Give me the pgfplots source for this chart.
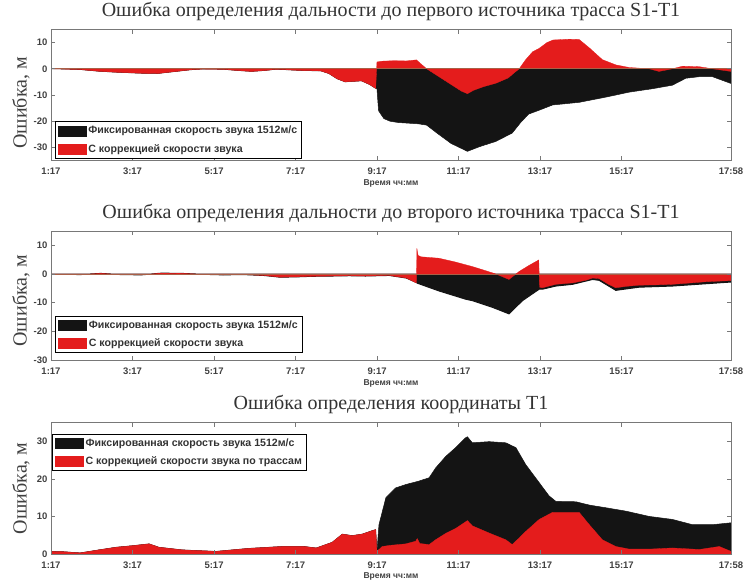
\documentclass[border=0pt]{standalone}
\usepackage{pgfplots}
\pgfplotsset{compat=1.18}
\usepackage{fontspec}
\setmainfont{Liberation Serif}
\setsansfont{Liberation Sans}
\definecolor{myred}{RGB}{228,28,28}
\definecolor{myblack}{RGB}{20,20,20}
\definecolor{axgray}{RGB}{120,120,120}
\definecolor{zline}{RGB}{170,95,70}
\pgfplotsset{
  myaxis/.style={
    scale only axis, width=680pt, anchor=south west,
    xmin=1.2833, xmax=17.9667,
    xtick={1.2833,3.2833,5.2833,7.2833,9.2833,11.2833,13.2833,15.2833,17.9667},
    xticklabels={1:17,3:17,5:17,7:17,9:17,11:17,13:17,15:17,17:58},
    tick align=inside, xtick pos=both, ytick pos=both,
    xticklabel pos=lower, yticklabel pos=left,
    major tick length=4pt,
    tick style={axgray, line width=0.6pt},
    axis line style={axgray, line width=0.7pt},
    /pgf/number format/assume math mode=true,
    ticklabel style={font=\sffamily\bfseries\fontsize{9.5}{10}\selectfont, text=black!75},
    xticklabel style={yshift=-4pt},
    xlabel={Время чч:мм},
    xlabel style={font=\sffamily\bfseries\fontsize{8.5}{9}\selectfont, text=black!75, anchor=center},
    ylabel={Ошибка, м},
    ylabel style={font=\fontsize{20}{22}\selectfont, text=black!75, anchor=center},
    title style={font=\fontsize{20}{22}\selectfont, text=black!80, anchor=base, at={(axis description cs:0.5,1)}, yshift=7pt},
    axis on top,
    legend style={font=\sffamily\bfseries\fontsize{10.6}{11}\selectfont, draw=black, line width=0.6pt, inner sep=2.5pt, row sep=5pt, cells={anchor=west}, text=black!80},
    legend image code/.code={\fill[#1] (0pt,-5pt) rectangle (28pt,5pt);},
  }
}
\begin{document}
\begin{tikzpicture}
\useasboundingbox (0,0) rectangle (748pt,582pt);
% ---------------- Panel 1
\begin{axis}[myaxis, at={(51pt,421.5pt)}, height=131pt, ymin=-35, ymax=15,
  ytick={-30,-20,-10,0,10},
  title={Ошибка определения дальности до первого источника трасса S1-T1},
  xlabel style={at={(axis description cs:0.5,-0.175)}},
  ylabel style={at={(axis description cs:-0.044,0.44)}},
  legend style={at={(axis description cs:0.006,0.015)}, anchor=south west}]
\addplot[fill=myblack, draw=myblack, line width=0.5pt] coordinates {
(1.2833,0) (1.6,-0.1) (2.0,-0.3) (2.5,-1.0) (3.0,-1.4) (3.5,-1.7) (3.9,-1.8) (4.3,-1.1)
(4.7,-0.4) (5.0,-0.1) (5.5,-0.2) (5.9,-0.7) (6.2,-1.0) (6.5,-0.7) (6.8,-0.2) (7.1,-0.4)
(7.5,-0.7) (7.9,-0.8) (8.1,-1.8) (8.3,-3.8) (8.5,-5.0) (8.7,-4.8) (8.9,-4.6) (9.1,-6.0)
(9.25,-7.5) (9.28,-7.5) (9.32,-16) (9.45,-19) (9.6,-20) (9.8,-20.5) (10.0,-20.7) (10.3,-21)
(10.5,-21.5) (10.75,-24.5) (11.1,-28.5) (11.5,-31.5) (11.8,-29.7) (12.2,-27.7) (12.6,-24.5)
(12.8,-20.6) (13.0,-17.3) (13.26,-15.8) (13.59,-13.8) (14.24,-12.8) (14.9,-10.8) (15.47,-8.9)
(16.04,-7.6) (16.53,-6.25) (16.86,-3.6) (17.19,-3.0) (17.51,-3.0) (17.9667,-5.6) (17.9667,0)
} \closedcycle;
\addlegendentry{Фиксированная скорость звука 1512м/с}
\addplot[fill=myred, draw=myred, line width=0.3pt] coordinates {
(1.2833,0) (1.6,-0.1) (2.0,-0.3) (2.5,-1.0) (3.0,-1.4) (3.5,-1.7) (3.9,-1.8) (4.3,-1.1)
(4.7,-0.4) (5.0,-0.1) (5.5,-0.2) (5.9,-0.7) (6.2,-1.0) (6.5,-0.7) (6.8,-0.2) (7.1,-0.4)
(7.5,-0.7) (7.9,-0.8) (8.1,-1.8) (8.3,-3.8) (8.5,-5.0) (8.7,-4.8) (8.9,-4.6) (9.1,-6.0)
(9.25,-7.5) (9.28,2.6) (9.4,2.9) (9.7,3.1) (10.0,3.0) (10.25,3.4) (10.35,2.0) (10.5,0.0)
(10.8,-3.0) (11.1,-6.0) (11.35,-8.5) (11.5,-9.5) (11.65,-8.2) (11.9,-6.8) (12.2,-5.5)
(12.5,-3.5) (12.65,-1.5) (12.77,0.0) (12.93,3.5) (13.1,6.5) (13.26,7.8) (13.45,10.0)
(13.6,11.0) (14.0,11.3) (14.24,11.2) (14.49,8.0) (14.81,3.5) (15.14,1.5) (15.47,0.5)
(15.96,0.0) (16.2,-1.0) (16.53,0.0) (16.78,1.0) (17.19,0.8) (17.51,0.0) (17.9667,-1.0) (17.9667,0)
} \closedcycle;
\addlegendentry{С коррекцией скорости звука}
\addplot[zline, line width=0.7pt, forget plot] coordinates {(1.2833,0) (17.9667,0)};
\end{axis}
% ---------------- Panel 2
\begin{axis}[myaxis, at={(51pt,222pt)}, height=129pt, ymin=-30, ymax=15,
  ytick={-30,-20,-10,0,10},
  title={Ошибка определения дальности до второго источника трасса S1-T1},
  xlabel style={at={(axis description cs:0.5,-0.18)}},
  ylabel style={at={(axis description cs:-0.044,0.46)}},
  legend style={at={(axis description cs:0.006,0.054)}, anchor=south west}]
\addplot[fill=myblack, draw=myblack, line width=1pt] coordinates {
(1.2833,0) (2.0,-0.2) (2.5,0.2) (3.0,-0.2) (3.5,-0.3) (4.0,0.3) (4.5,0.2) (5.0,-0.1)
(5.5,-0.3) (6.0,-0.2) (6.5,-0.5) (6.9,-1.1) (7.3,-1.0) (7.7,-0.8) (8.2,-0.7) (8.6,-0.6)
(9.0,-0.7) (9.58,-0.5) (10.0,-1.4) (10.25,-3.0) (10.27,-3.2) (10.8,-5.9) (11.46,-8.8)
(11.62,-9.3) (12.11,-11.6) (12.52,-13.9) (12.85,-9.3) (13.26,-5.3) (13.34,-5.3) (13.67,-4.2)
(14.08,-3.6) (14.57,-1.9) (14.73,-2.2) (15.14,-5.7) (15.71,-4.6) (16.53,-4.2) (17.35,-3.4)
(17.9667,-2.8) (17.9667,0)
} \closedcycle;
\addlegendentry{Фиксированная скорость звука 1512м/с}
\addplot[fill=myred, draw=myred, line width=0.3pt] coordinates {
(1.2833,0) (2.0,-0.2) (2.5,0.2) (3.0,-0.2) (3.5,-0.3) (4.0,0.3) (4.5,0.2) (5.0,-0.1)
(5.5,-0.3) (6.0,-0.2) (6.5,-0.5) (6.9,-1.1) (7.3,-1.0) (7.7,-0.8) (8.2,-0.7) (8.6,-0.6)
(9.0,-0.7) (9.58,-0.5) (10.0,-1.4) (10.23,-3.0) (10.25,-3.0) (10.26,8.9) (10.29,6.5)
(10.36,6.0) (10.8,5.5) (11.2,4.2) (11.62,2.6) (11.87,1.5) (12.2,0.0) (12.52,-1.9)
(12.77,0.9) (13.0,2.9) (13.25,4.9) (13.27,-4.6) (13.34,-4.8) (13.67,-3.6) (14.08,-3.1)
(14.4,-2.2) (14.57,-1.4) (14.73,-1.6) (14.95,-3.5) (15.14,-4.8) (15.4,-4.3) (15.71,-3.9)
(16.1,-3.8) (16.53,-3.6) (16.9,-3.2) (17.35,-2.7) (17.9667,-2.3) (17.9667,0)
} \closedcycle;
\addlegendentry{С коррекцией скорости звука}
\addplot[zline, line width=0.7pt, forget plot] coordinates {(1.2833,0) (17.9667,0)};
\end{axis}
% ---------------- Panel 3
\begin{axis}[myaxis, at={(51pt,28pt)}, height=131.5pt, ymin=0, ymax=35,
  ytick={0,10,20,30},
  title={Ошибка определения координаты T1},
  xlabel style={at={(axis description cs:0.5,-0.17)}},
  ylabel style={at={(axis description cs:-0.044,0.5)}},
  legend style={at={(axis description cs:0.002,0.916)}, anchor=north west}]
\addplot[fill=myblack, draw=myblack, line width=0.5pt] coordinates {
(1.2833,0) (1.2833,0.7) (1.6,0.6) (2.0,0.3) (2.46,1.1) (2.88,1.8) (3.27,2.2) (3.69,2.7) (3.93,1.8)
(4.5,1.1) (5.33,0.7) (6.14,1.5) (6.95,2.0) (7.5,2.0) (7.79,1.6) (8.18,3.1) (8.43,5.3)
(8.67,4.9) (8.92,5.3) (9.16,6.2) (9.25,6.5) (9.28,0.7) (9.33,7.8) (9.5,15) (9.74,17.6)
(9.99,18.5) (10.31,19.4) (10.56,20.3) (10.72,22.9) (10.97,26) (11.21,28.3) (11.45,30.9)
(11.5,31.2) (11.62,29.6) (12.03,29.9) (12.44,29.6) (12.69,28.3) (12.93,23.8) (13.26,19.0)
(13.5,15.5) (13.67,14.0) (14.16,13.9) (14.5,13.0) (14.9,12.3) (15.39,11.4) (15.96,10.0)
(16.53,9.2) (17.02,7.8) (17.51,7.8) (17.9667,8.3) (17.9667,0)
} \closedcycle;
\addlegendentry{Фиксированная скорость звука 1512м/с}
\addplot[fill=myred, draw=myred, line width=0.3pt] coordinates {
(1.2833,0) (1.2833,0.7) (1.6,0.6) (2.0,0.3) (2.46,1.1) (2.88,1.8) (3.27,2.2) (3.69,2.7) (3.93,1.8)
(4.5,1.1) (5.33,0.7) (6.14,1.5) (6.95,2.0) (7.5,2.0) (7.79,1.6) (8.18,3.1) (8.43,5.3)
(8.67,4.9) (8.92,5.3) (9.16,6.2) (9.25,6.5) (9.28,0.7) (9.41,2.0) (9.6,2.3) (9.99,2.7)
(10.23,3.4) (10.27,4.1) (10.33,2.8) (10.56,2.5) (10.72,3.8) (10.97,5.5) (11.21,6.8)
(11.5,8.9) (11.62,7.5) (12.03,5.6) (12.44,3.8) (12.6,2.5) (12.93,6.0) (13.26,9.2)
(13.59,11.1) (14.24,11.1) (14.49,7.8) (14.81,3.8) (15.14,2.0) (15.47,1.3) (15.96,1.3)
(16.53,1.6) (17.19,1.2) (17.68,2.0) (17.9667,0.7) (17.9667,0)
} \closedcycle;
\addlegendentry{С коррекцией скорости звука по трассам}
\end{axis}
\end{tikzpicture}
\end{document}
